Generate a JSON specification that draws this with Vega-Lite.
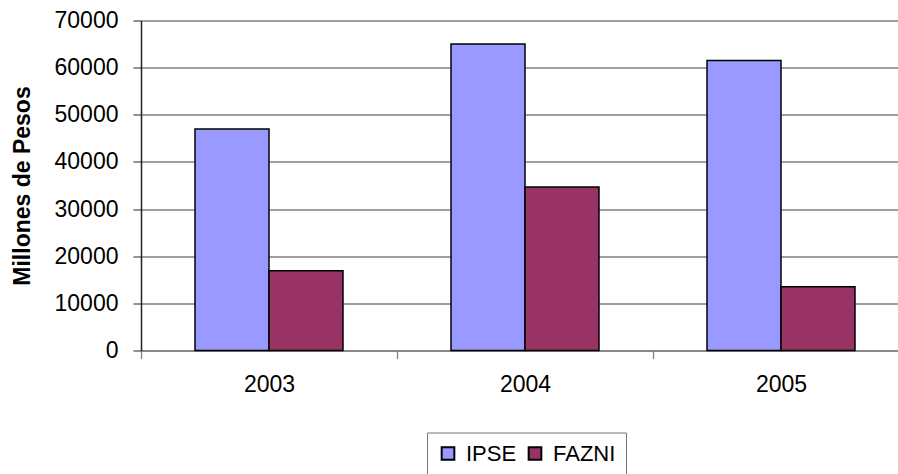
{
  "$schema": "https://vega.github.io/schema/vega-lite/v6.json",
  "width": 757,
  "height": 330,
  "autosize": {"type": "none"},
  "padding": {"left": 141, "top": 20.5, "right": 0, "bottom": 123.5},
  "background": "white",
  "config": {
    "font": "Liberation Sans",
    "view": {"stroke": null}
  },
  "data": {
    "values": [
      {"year": "2003", "fuente": "IPSE", "valor": 47000},
      {"year": "2003", "fuente": "FAZNI", "valor": 16900},
      {"year": "2004", "fuente": "IPSE", "valor": 65000},
      {"year": "2004", "fuente": "FAZNI", "valor": 34700},
      {"year": "2005", "fuente": "IPSE", "valor": 61500},
      {"year": "2005", "fuente": "FAZNI", "valor": 13500}
    ]
  },
  "mark": {"type": "bar", "stroke": "black", "strokeWidth": 1.5},
  "encoding": {
    "x": {
      "field": "year",
      "type": "nominal",
      "scale": {"range": [0, 768], "paddingInner": 0, "paddingOuter": 0},
      "axis": {
        "title": null,
        "labelAngle": 0,
        "labelFontSize": 23,
        "labelColor": "black",
        "labelPadding": 15,
        "tickBand": "extent",
        "tickSize": 8,
        "tickColor": "#808080",
        "tickWidth": 1.3,
        "domainColor": "#808080",
        "domainWidth": 1.3,
        "grid": false
      }
    },
    "xOffset": {
      "field": "fuente",
      "type": "nominal",
      "sort": ["IPSE", "FAZNI"],
      "scale": {"paddingInner": 0, "paddingOuter": 0.73}
    },
    "y": {
      "field": "valor",
      "type": "quantitative",
      "scale": {"domain": [0, 70000], "nice": false},
      "axis": {
        "title": "Millones de Pesos",
        "titleFontSize": 23,
        "titleFontWeight": "bold",
        "titleColor": "black",
        "titlePadding": 20,
        "values": [0, 10000, 20000, 30000, 40000, 50000, 60000, 70000],
        "format": "d",
        "labelFontSize": 23,
        "labelColor": "black",
        "labelPadding": 15,
        "tickSize": 8,
        "tickColor": "#555555",
        "tickWidth": 1.3,
        "domainColor": "#222222",
        "domainWidth": 1.5,
        "grid": true,
        "gridColor": "#808080",
        "gridWidth": 1.5
      }
    },
    "color": {
      "field": "fuente",
      "type": "nominal",
      "scale": {"domain": ["IPSE", "FAZNI"], "range": ["#9999FF", "#993366"]},
      "legend": {
        "title": null,
        "orient": "none",
        "direction": "horizontal",
        "legendX": 286,
        "legendY": 412,
        "padding": 10,
        "strokeColor": "#777777",
        "fillColor": "white",
        "symbolType": "square",
        "symbolSize": 160,
        "symbolStrokeColor": "black",
        "symbolStrokeWidth": 2,
        "labelFontSize": 22,
        "labelColor": "black",
        "labelOffset": 7,
        "columnPadding": 7
      }
    }
  }
}
